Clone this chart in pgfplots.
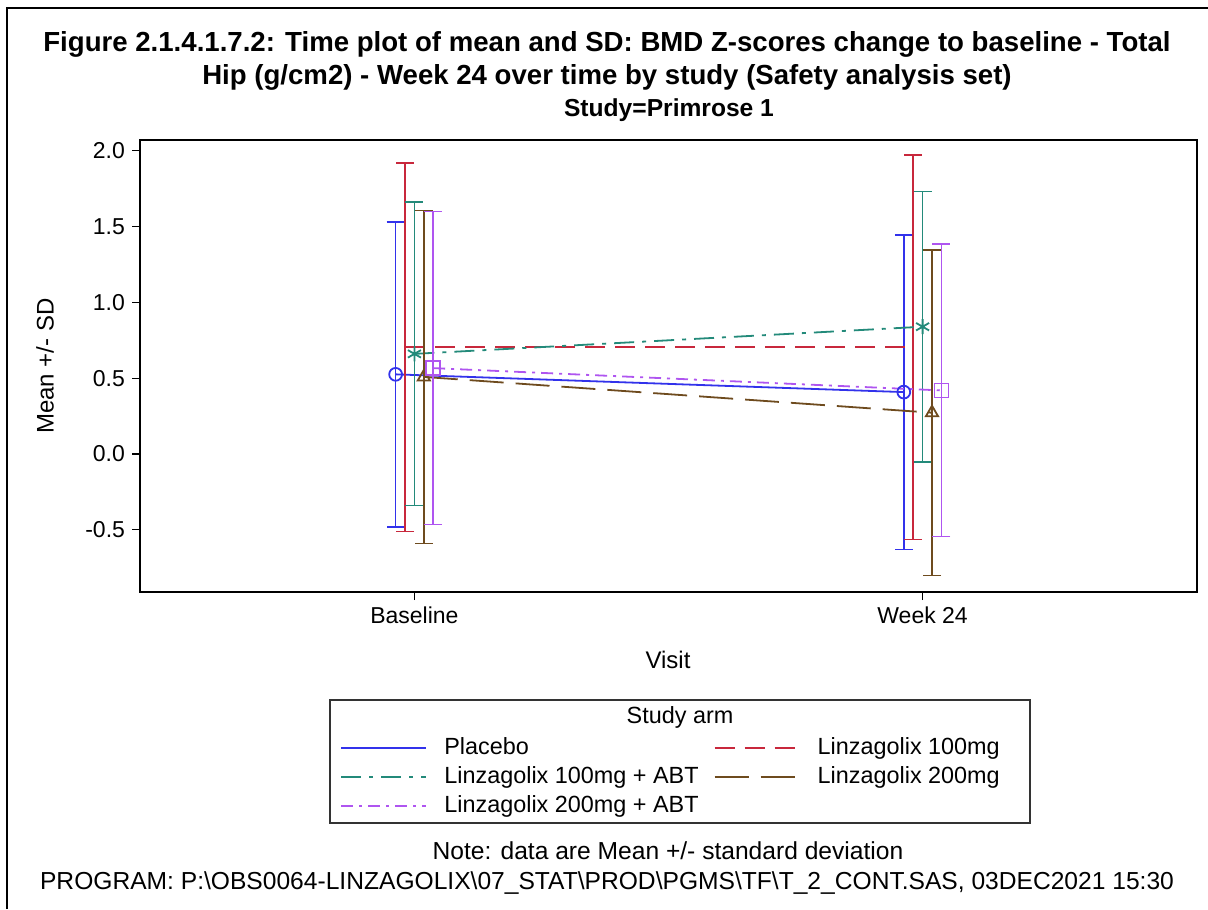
\documentclass[border=0pt]{standalone}
\usepackage{fontspec}
\setmainfont{Liberation Sans}
\usepackage{pgfplots}
\usepackage{pgfplotstable}
\pgfplotsset{compat=1.18}
\definecolor{cBlue}{RGB}{50,50,235}
\definecolor{cRed}{RGB}{200,40,60}
\definecolor{cTeal}{RGB}{35,138,122}
\definecolor{cBrown}{RGB}{110,75,30}
\definecolor{cPurple}{RGB}{175,85,240}

% x = visit (1=Baseline, 2=Week 24, with cluster offsets), y = mean, e = SD
\pgfplotstableread{
x y e
0.963 0.525 1.005
1.963 0.408 1.037
}\tPlacebo
\pgfplotstableread{
x y e
0.9815 0.705 1.215
1.9815 0.705 1.268
}\tLinzA
\pgfplotstableread{
x y e
1.000 0.660 1.000
2.000 0.839 0.892
}\tLinzAabt
\pgfplotstableread{
x y e
1.0185 0.508 1.097
2.0185 0.272 1.074
}\tLinzB
\pgfplotstableread{
x y e
1.037 0.566 1.032
2.037 0.419 0.964
}\tLinzBabt

\pgfplotsset{
  ebars/.style={error bars/.cd, y dir=both, y explicit,
    error bar style={solid, line width=0.8pt, color=#1},
    error mark options={rotate=90, solid, mark size=4.5pt, line width=0.8pt, color=#1}},
}

\begin{document}
\begin{tikzpicture}[x=0.5pt,y=-0.5pt]
\useasboundingbox (0,0) rectangle (1208,909);
\draw[line width=1pt] (7,909) -- (7,8) -- (1208,8);

\node[font=\fontsize{13.8}{16.5}\selectfont\bfseries, align=center] at (607,61)
 {Figure 2.1.4.1.7.2: Time plot of mean and SD: BMD Z-scores change to baseline - Total\\
  Hip (g/cm2) - Week 24 over time by study (Safety analysis set)};
\node[font=\fontsize{12.3}{14}\selectfont\bfseries] at (669,110) {Study=Primrose 1};

\begin{axis}[
  at={(70pt,-296pt)}, anchor=south west,
  scale only axis, width=528.5pt, height=226pt,
  xmin=0.46, xmax=2.54, ymin=-0.91, ymax=2.07,
  xtick={1,2}, xticklabels={Baseline,Week 24},
  ytick={-0.5,0,0.5,1,1.5,2},
  yticklabel style={/pgf/number format/.cd, fixed, fixed zerofill, precision=1},
  /pgf/number format/assume math mode=true,
  tick pos=left, tick align=outside, major tick length=4pt,
  tick style={black, line width=0.6pt},
  axis line style={line width=0.6pt},
  ticklabel style={font=\fontsize{11.5}{13}\selectfont},
  legend columns=2,
  legend cell align=left,
  legend image code/.code={\draw[#1, line width=1pt] (0pt,0pt) -- (42.5pt,0pt);},
  legend style={at={(axis description cs:0.1892,-0.3163)}, anchor=north west,
    draw=none, fill=none, inner sep=0pt, row sep=1.5pt,
    font=\fontsize{11.7}{13}\selectfont,
    nodes={inner sep=1pt, text height=8.5pt, text depth=2.5pt},
    /tikz/every odd column/.append style={column sep=7.5pt},
    /tikz/every even column/.append style={column sep=6.5pt}},
  every axis plot/.append style={line width=0.9pt},
]
\addplot[color=cBlue, solid, mark=o, mark size=3.2pt, mark options={solid}, ebars=cBlue]
  table[x=x, y=y, y error=e] {\tPlacebo};
\addlegendentry{Placebo}
\addplot[color=cRed, dash pattern=on 10pt off 5pt, mark=none, ebars=cRed]
  table[x=x, y=y, y error=e] {\tLinzA};
\addlegendentry{Linzagolix 100mg}
\addplot[color=cTeal, dash pattern=on 10pt off 4pt on 2pt off 4pt, mark=asterisk, mark size=3.75pt, mark options={solid}, ebars=cTeal]
  table[x=x, y=y, y error=e] {\tLinzAabt};
\addlegendentry{Linzagolix 100mg + ABT}
\addplot[color=cBrown, dash pattern=on 17pt off 6pt, mark=triangle, mark size=3.5pt, mark options={solid}, ebars=cBrown]
  table[x=x, y=y, y error=e] {\tLinzB};
\addlegendentry{Linzagolix 200mg}
\addplot[color=cPurple, dash pattern=on 6pt off 3pt on 1.5pt off 3pt, mark=square, mark size=3.5pt, mark options={solid}, ebars=cPurple]
  table[x=x, y=y, y error=e] {\tLinzBabt};
\addlegendentry{Linzagolix 200mg + ABT}
\end{axis}

\node[font=\fontsize{12}{14}\selectfont, rotate=90] at (45,366) {Mean +/- SD};
\node[font=\fontsize{12}{14}\selectfont] at (668,660) {Visit};

\draw[line width=0.8pt, black!80] (330,700) rectangle (1030,823);
\node[font=\fontsize{11.7}{13}\selectfont] at (680,717) {Study arm};

\node[font=\fontsize{12.3}{14}\selectfont] at (668,851) {Note: data are Mean +/- standard deviation};
\node[font=\fontsize{12.3}{14}\selectfont] at (607,883) {PROGRAM: P:\textbackslash OBS0064-LINZAGOLIX\textbackslash 07\_STAT\textbackslash PROD\textbackslash PGMS\textbackslash TF\textbackslash T\_2\_CONT.SAS, 03DEC2021 15:30};
\end{tikzpicture}
\end{document}
